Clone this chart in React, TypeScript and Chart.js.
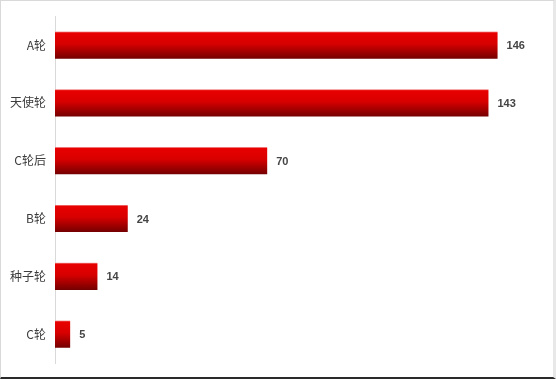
import React, { useEffect, useRef } from "react";
import { Chart, registerables } from "chart.js";

Chart.register(...registerables);

const rounds = ["A轮", "天使轮", "C轮后", "B轮", "种子轮", "C轮"];
const counts = [146, 143, 70, 24, 14, 5];
const axisMax = 160;

const W = 556;
const H = 380;
const BAR_PCT = 0.47;

// Writes each bar's value just past its end.
const valueLabels = {
  id: "valueLabels",
  afterDatasetsDraw(chart: any) {
    const { ctx } = chart;
    const meta = chart.getDatasetMeta(0);
    ctx.save();
    ctx.font = "bold 11px 'Liberation Sans', Arial, sans-serif";
    ctx.fillStyle = "#454545";
    ctx.textAlign = "left";
    ctx.textBaseline = "middle";
    meta.data.forEach((bar: any, i: number) => {
      ctx.fillText(String(counts[i]), bar.x + 9, bar.y + 1);
    });
    ctx.restore();
  },
};

function barGradient(context: any) {
  const chart = context.chart;
  const y = chart.scales && chart.scales.y;
  if (!chart.chartArea || !y) return "#c00000";
  const center = y.getPixelForValue(context.dataIndex);
  const half = (chart.chartArea.height / rounds.length) * BAR_PCT / 2;
  const g = chart.ctx.createLinearGradient(0, center - half, 0, center + half);
  g.addColorStop(0, "#f4a0a0");
  g.addColorStop(0.05, "#e80000");
  g.addColorStop(0.45, "#d80000");
  g.addColorStop(1, "#740000");
  return g;
}

export default function App() {
  const ref = useRef<HTMLCanvasElement>(null);

  useEffect(() => {
    document.body.style.margin = "0";
    const chart = new Chart(ref.current as HTMLCanvasElement, {
      type: "bar",
      data: {
        labels: rounds,
        datasets: [
          {
            data: counts,
            backgroundColor: barGradient,
            borderWidth: 0,
            barPercentage: BAR_PCT,
            categoryPercentage: 1,
          },
        ],
      },
      options: {
        indexAxis: "y",
        responsive: false,
        animation: false,
        devicePixelRatio: 1,
        layout: { padding: { top: 15, bottom: 17, right: 16, left: 0 } },
        plugins: { legend: { display: false }, tooltip: { enabled: false } },
        scales: {
          x: {
            display: false,
            min: 0,
            max: axisMax,
          },
          y: {
            grid: { display: false, drawTicks: false },
            border: { display: true, color: "#d9d9d9", width: 1 },
            ticks: {
              color: "#3c3c3c",
              padding: 9,
              font: { family: "'Noto Sans CJK SC', sans-serif", size: 12 },
            },
            afterFit(scale: any) {
              scale.width = 55;
            },
          },
        },
      },
      plugins: [valueLabels],
    });
    return () => chart.destroy();
  }, []);

  return (
    <div style={{ position: "relative", width: W, height: H, background: "#fff" }}>
      <canvas ref={ref} width={W} height={H} style={{ position: "absolute", left: 0, top: 0 }} />
      <div
        style={{
          position: "absolute",
          left: 0,
          top: 0,
          width: W,
          height: H - 1,
          boxSizing: "border-box",
          borderTop: "1px solid #d9d9d9",
          borderLeft: "1px solid #d9d9d9",
          borderRight: "3px solid #e8e8e8",
          borderBottom: "2px solid #2a2a2a",
          pointerEvents: "none",
        }}
      />
    </div>
  );
}
